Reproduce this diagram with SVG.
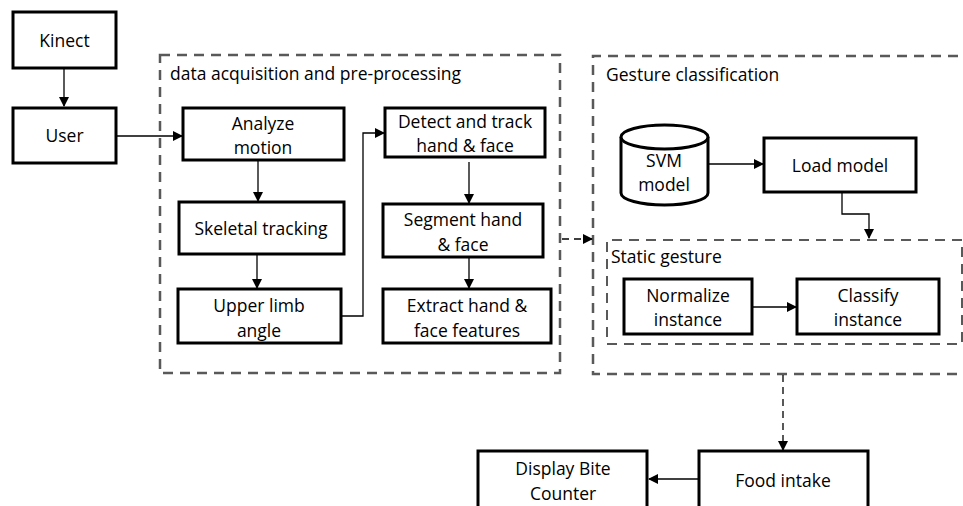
<svg xmlns="http://www.w3.org/2000/svg" width="963" height="506" viewBox="0 0 963 506">
<style>
.box{fill:#fff;stroke:#000;stroke-width:3}
.grp{fill:none;stroke:#595959;stroke-width:2.5;stroke-dasharray:10,7}
.t{font-family:"Open Sans","Noto Sans","Liberation Sans",sans-serif;font-size:17.5px;fill:#000;text-anchor:middle}
.lbl{font-family:"Open Sans","Noto Sans","Liberation Sans",sans-serif;font-size:17.5px;fill:#000}
.c{fill:none;stroke:#000;stroke-width:1.3}
.d{fill:none;stroke:#000;stroke-width:1.3;stroke-dasharray:7,5}
</style>
<defs>
<marker id="ah" markerWidth="10" markerHeight="10" refX="9" refY="5" orient="auto" markerUnits="userSpaceOnUse">
<path d="M0,0 L10,5 L0,10 z" fill="#000"/>
</marker>
</defs>
<rect width="963" height="506" fill="#fff"/>
<g id="group-acquisition">
<rect class="grp" x="160" y="55" width="400" height="318"/>
<text class="lbl" x="170" y="80">data acquisition and pre-processing</text>
</g>
<g id="group-gesture">
<path class="grp" d="M975,56 H593 V374 H975"/>
<text class="lbl" x="606" y="81">Gesture classification</text>
</g>
<g id="group-static">
<path class="grp" d="M962,240 H607 V344 H962 Z" style="stroke-width:2"/>
<text class="lbl" x="611" y="263">Static gesture</text>
</g>
<g id="kinect"><rect class="box" x="13" y="12" width="103" height="56"/><text class="t" x="64.5" y="47">Kinect</text></g>
<g id="user"><rect class="box" x="13" y="108" width="103" height="55"/><text class="t" x="64.5" y="142">User</text></g>
<g id="analyze"><rect class="box" x="183" y="108" width="161" height="52"/><text class="t" x="263" y="130">Analyze</text><text class="t" x="263" y="154">motion</text></g>
<g id="skeletal"><rect class="box" x="179" y="202" width="165" height="52"/><text class="t" x="261" y="235">Skeletal tracking</text></g>
<g id="upper"><rect class="box" x="178" y="289" width="163" height="54"/><text class="t" x="259" y="312">Upper limb</text><text class="t" x="259" y="337">angle</text></g>
<g id="detect"><rect class="box" x="385" y="108" width="160" height="49"/><text class="t" x="465" y="128">Detect and track</text><text class="t" x="465" y="152">hand &amp; face</text></g>
<g id="segment"><rect class="box" x="383" y="204" width="160" height="53"/><text class="t" x="463" y="226">Segment hand</text><text class="t" x="463" y="251">&amp; face</text></g>
<g id="extract"><rect class="box" x="383" y="289" width="168" height="54"/><text class="t" x="467" y="312">Extract hand &amp;</text><text class="t" x="467" y="337">face features</text></g>
<g id="svm">
<path class="box" d="M621,137 V193 A43.5,12 0 0 0 708,193 V137"/>
<ellipse class="box" cx="664.5" cy="137" rx="43.5" ry="12"/>
<text class="t" x="664" y="167">SVM</text><text class="t" x="664" y="191">model</text>
</g>
<g id="load"><rect class="box" x="764" y="138" width="152" height="54"/><text class="t" x="840" y="172">Load model</text></g>
<g id="normalize"><rect class="box" x="624" y="279" width="128" height="55"/><text class="t" x="688" y="302">Normalize</text><text class="t" x="688" y="326">instance</text></g>
<g id="classify"><rect class="box" x="797" y="279" width="142" height="55"/><text class="t" x="868" y="302">Classify</text><text class="t" x="868" y="326">instance</text></g>
<g id="display"><rect class="box" x="478" y="451" width="169" height="70"/><text class="t" x="563" y="475">Display Bite</text><text class="t" x="563" y="500">Counter</text></g>
<g id="food"><rect class="box" x="699" y="451" width="169" height="70"/><text class="t" x="783" y="487">Food intake</text></g>
<g id="connectors">
<line class="c" x1="64" y1="68" x2="64" y2="106" marker-end="url(#ah)"/>
<line class="c" x1="117" y1="136" x2="182" y2="136" marker-end="url(#ah)"/>
<line class="c" x1="258" y1="161" x2="258" y2="201" marker-end="url(#ah)"/>
<line class="c" x1="257" y1="255" x2="257" y2="288" marker-end="url(#ah)"/>
<path class="c" d="M342,316 H363 V133 H384" marker-end="url(#ah)"/>
<line class="c" x1="469" y1="162" x2="469" y2="203" marker-end="url(#ah)"/>
<line class="c" x1="469" y1="258" x2="469" y2="288" marker-end="url(#ah)"/>
<line class="d" x1="562" y1="239" x2="592" y2="239" marker-end="url(#ah)"/>
<line class="c" x1="708" y1="164" x2="763" y2="164" marker-end="url(#ah)"/>
<path class="c" d="M842,193 V214 H869 V238" marker-end="url(#ah)"/>
<line class="c" x1="753" y1="307" x2="796" y2="307" marker-end="url(#ah)"/>
<line class="d" x1="783" y1="375" x2="783" y2="450" marker-end="url(#ah)"/>
<line class="c" x1="698" y1="479" x2="649" y2="479" marker-end="url(#ah)"/>
</g>
</svg>
